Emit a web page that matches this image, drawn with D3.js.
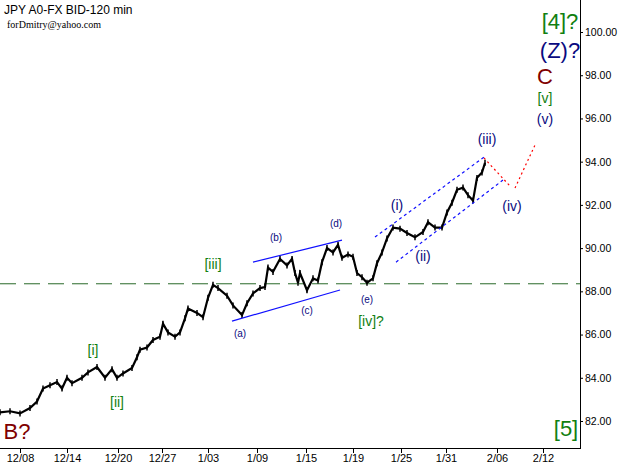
<!DOCTYPE html><html><head><meta charset="utf-8">
<script src="https://cdn.jsdelivr.net/npm/d3@7"></script>
<style>body{margin:0;background:#fff}text{font-family:"Liberation Sans",Arial,sans-serif}</style></head><body>
<svg id="c" width="619" height="465"></svg>
<script>
// time in chart units (bar position), price values
const times=[0,10,20,30,37,43,50,57,62,67,72,82,88,97,105,112,117,123,132,137,140,147,153,160,163,168,175,180,185,188,197,203,208,213,218,227,233,242,247,253,260,265,268,273,280,287,292,295,298,300,307,313,318,322,327,333,338,342,348,353,357,362,367,373,377,382,387,393,400,407,415,423,428,435,442,447,452,457,463,468,473,477,482,485];
const prices=[82.4,82.45,82.35,82.6,82.9,83.5,83.65,83.8,83.5,84.0,83.75,84.0,84.25,84.5,84.0,84.4,84.0,84.2,84.45,84.95,85.3,85.4,85.75,85.9,86.5,86.1,85.9,86.1,86.75,87.2,87.0,86.8,87.7,88.3,88.15,87.8,87.35,86.9,87.45,87.9,88.15,88.2,89.1,88.9,89.5,89.2,89.5,88.85,88.4,88.85,88.05,88.6,88.5,89.35,90.0,89.8,90.15,89.55,89.7,89.6,88.85,88.65,88.4,88.6,89.3,89.8,90.45,90.95,90.9,90.7,90.5,90.75,91.2,90.95,90.95,91.65,92.1,92.7,92.8,92.45,92.2,93.25,93.5,93.95];
const dateLabels=["12/08","12/14","12/20","12/27","1/03","1/09","1/15","1/19","1/25","1/31","2/06","2/12"];
const dateTimes=[20,67,118,162,208,257,306,353,401,446,497,543];
const yTicks=[82,84,86,88,90,92,94,96,98,100];
const levelPrice=88.35;
const solidLines=[[[253,89.35],[342,90.37]],[[232,86.62],[340,88.06]]];
const blueDotted=[[[375,90.51],[484,94.21]],[[396,89.35],[503,93.15]]];
const redDotted=[[[484,94.17],[510,92.87]],[[515,92.78],[535,94.77]]];
const waveLabels=[
 {t:560,p:100.42,s:"[4]?",c:"#118011",f:22},{t:560,p:99.07,s:"(Z)?",c:"#0a0a80",f:22},{t:545,p:97.87,s:"C",c:"#800000",f:22},
 {t:545,p:96.9,s:"[v]",c:"#118011",f:14},{t:545,p:95.93,s:"(v)",c:"#0a0a80",f:14},
 {t:213,p:89.21,s:"[iii]",c:"#118011",f:14},{t:93,p:85.23,s:"[i]",c:"#118011",f:14},{t:117,p:82.82,s:"[ii]",c:"#118011",f:14},
 {t:240,p:86.02,s:"(a)",c:"#0a0a80",f:10},{t:276,p:90.46,s:"(b)",c:"#0a0a80",f:10},{t:307,p:87.08,s:"(c)",c:"#0a0a80",f:10},
 {t:336,p:91.11,s:"(d)",c:"#0a0a80",f:10},{t:367,p:87.59,s:"(e)",c:"#0a0a80",f:10},{t:371,p:86.57,s:"[iv]?",c:"#118011",f:14},
 {t:397,p:91.94,s:"(i)",c:"#0a0a80",f:14},{t:423,p:89.58,s:"(ii)",c:"#0a0a80",f:14},{t:487,p:95.0,s:"(iii)",c:"#0a0a80",f:14},
 {t:512,p:91.9,s:"(iv)",c:"#0a0a80",f:14},{t:17,p:81.44,s:"B?",c:"#800000",f:22},{t:566,p:81.57,s:"[5]",c:"#118011",f:22}];

const svg=d3.select("#c");
const x=d3.scaleLinear().domain([0,619]).range([0,619]);
const y=d3.scaleLinear().domain([82,100]).range([421,32]);
svg.append("line").attr("x1",580.5).attr("x2",580.5).attr("y1",0).attr("y2",449).attr("stroke","#000");
svg.append("line").attr("x1",0).attr("x2",580).attr("y1",448.5).attr("y2",448.5).attr("stroke","#000");
const ya=svg.append("g").attr("transform","translate(580,0)").call(d3.axisRight(y).tickValues(yTicks).tickSize(3).tickPadding(2).tickFormat(d3.format(".2f")));
ya.select(".domain").remove();
ya.selectAll("text").attr("font-size",10.5).attr("font-family","Liberation Sans");
const xa=svg.append("g").attr("transform","translate(0,448)").call(d3.axisBottom(x).tickValues(dateTimes).tickSize(5).tickFormat((d,i)=>dateLabels[i]));
xa.select(".domain").remove();
xa.selectAll("text").attr("font-size",11).attr("font-family","Liberation Sans").attr("dy","0.5em");
svg.append("line").attr("x1",0).attr("x2",580).attr("y1",y(levelPrice)).attr("y2",y(levelPrice)).attr("stroke","#2a6a2a").attr("stroke-dasharray","16,8").attr("stroke-width",1);
const line=d3.line().x((d,i)=>x(times[i])).y(d=>y(d));
svg.append("path").attr("d",line(prices)).attr("fill","none").attr("stroke","#000").attr("stroke-width",2.2);
svg.selectAll(".hl").data(prices).join("line").attr("x1",(d,i)=>x(times[i])).attr("x2",(d,i)=>x(times[i]))
 .attr("y1",d=>y(d)-3).attr("y2",d=>y(d)+3).attr("stroke","#000").attr("stroke-width",1.5);
const seg=(arr,col,dash)=>arr.forEach(s=>svg.append("line").attr("x1",x(s[0][0])).attr("y1",y(s[0][1])).attr("x2",x(s[1][0])).attr("y2",y(s[1][1])).attr("stroke",col).attr("stroke-width",1.2).attr("stroke-dasharray",dash));
seg(solidLines,"#1010ff",null);seg(blueDotted,"#1010ff","3,3");seg(redDotted,"#ff0000","2,3");
svg.selectAll(".wl").data(waveLabels).join("text").attr("x",d=>x(d.t)).attr("y",d=>y(d.p)).attr("text-anchor","middle").attr("dominant-baseline","middle")
 .attr("fill",d=>d.c).attr("font-size",d=>d.f).text(d=>d.s);
svg.append("text").attr("x",4).attr("y",14).attr("font-size",12).text("JPY A0-FX BID-120 min");
svg.append("text").attr("x",7).attr("y",28).attr("font-size",10).style("font-family","Liberation Serif").text("forDmitry@yahoo.com");
</script></body></html>
